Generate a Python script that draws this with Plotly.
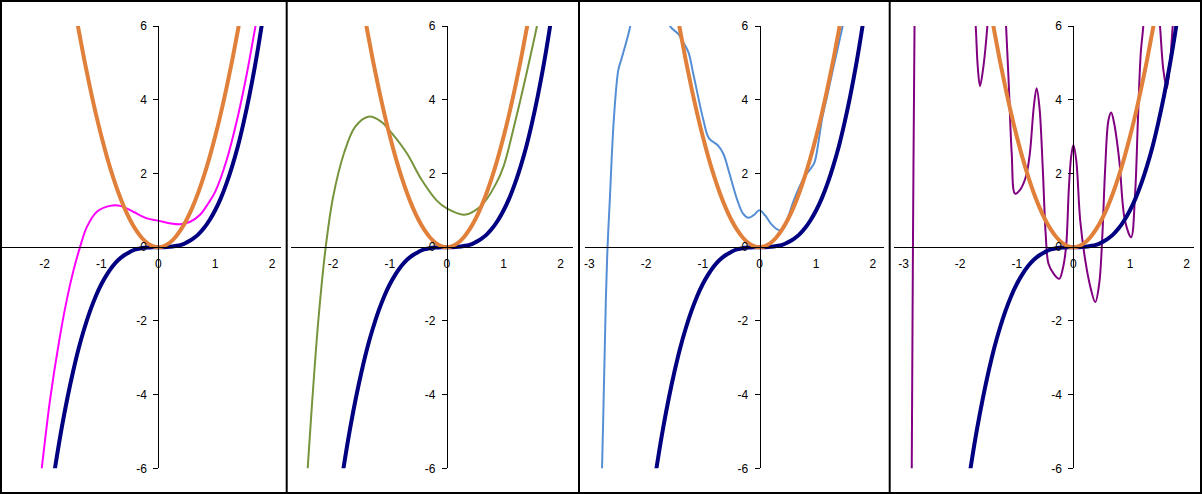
import plotly.graph_objects as go

# ---------------- data ----------------
y_ticks = [-6, -4, -2, 0, 2, 4, 6]
x_ticks_p1 = [-2, -1, 0, 1, 2]
x_ticks_p2 = [-2, -1, 0, 1, 2]
x_ticks_p3 = [-3, -2, -1, 0, 1, 2]
x_ticks_p4 = [-3, -2, -1, 0, 1, 2]

# navy curve (same in all panels)
navy_x = [-1.9, -1.8, -1.7, -1.6, -1.5, -1.4, -1.3, -1.2, -1.1, -1.0, -0.9, -0.8, -0.7, -0.6,
          -0.5, -0.4, -0.3, -0.2, -0.1, 0.0, 0.1, 0.2, 0.3, 0.4, 0.5, 0.6, 0.7, 0.8, 0.9, 1.0,
          1.1, 1.2, 1.3, 1.4, 1.5, 1.6, 1.7, 1.8, 1.9]
navy_y = [-6.86, -5.83, -4.91, -4.10, -3.38, -2.74, -2.20, -1.73, -1.33, -1.0, -0.73, -0.51, -0.34, -0.22,
          -0.13, -0.06, -0.03, -0.01, 0.0, 0.0, 0.0, 0.01, 0.03, 0.06, 0.13, 0.22, 0.34, 0.51, 0.73, 1.0,
          1.33, 1.73, 2.20, 2.74, 3.38, 4.10, 4.91, 5.83, 6.86]

# orange curve (same in all panels)
orange_x = [-1.5, -1.4, -1.3, -1.2, -1.1, -1.0, -0.9, -0.8, -0.7, -0.6, -0.5, -0.4, -0.3, -0.2, -0.1,
            0.0, 0.1, 0.2, 0.3, 0.4, 0.5, 0.6, 0.7, 0.8, 0.9, 1.0, 1.1, 1.2, 1.3, 1.4, 1.5]
orange_y = [6.75, 5.88, 5.07, 4.32, 3.63, 3.0, 2.43, 1.92, 1.47, 1.08, 0.75, 0.48, 0.27, 0.12, 0.03,
            0.0, 0.03, 0.12, 0.27, 0.48, 0.75, 1.08, 1.47, 1.92, 2.43, 3.0, 3.63, 4.32, 5.07, 5.88, 6.75]

# panel 1 (magenta)
magenta_x = [-2.08, -2.05, -1.905, -1.75, -1.61, -1.5, -1.377, -1.256, -1.08, -0.85, -0.67, -0.44,
             -0.2, 0.0, 0.2, 0.38, 0.56, 0.73, 0.88, 1.0, 1.2, 1.4, 1.55, 1.71, 1.75]
magenta_y = [-6.4, -6.0, -4.15, -2.6, -1.43, -0.68, 0.0, 0.55, 0.96, 1.12, 1.12, 0.96,
             0.78, 0.72, 0.65, 0.62, 0.69, 0.87, 1.19, 1.5, 2.35, 3.55, 4.65, 6.0, 6.35]

# panel 2 (green)
green_x = [-2.48, -2.447, -2.366, -2.26, -2.13, -2.0, -1.81, -1.61, -1.38, -1.15, -0.96, -0.70,
           -0.44, -0.18, 0.0, 0.31, 0.61, 0.868, 1.0, 1.21, 1.4, 1.585, 1.62]
green_y = [-6.7, -6.0, -4.15, -1.99, 0.0, 1.36, 2.54, 3.27, 3.54, 3.4, 3.08, 2.54,
           1.82, 1.27, 1.05, 0.88, 1.13, 1.73, 2.2, 3.45, 4.7, 6.0, 6.3]

# panel 3 (blue), two visible pieces
blue_x = [-2.79, -2.777, -2.74, -2.71, -2.68, -2.64, -2.57, -2.49, -2.44, -2.34, -2.28, -2.26, None,
          -1.62, -1.58, -1.43, -1.37, -1.256, -1.17, -0.99, -0.89, -0.74, -0.64, -0.53, -0.39, -0.29,
          -0.20, -0.11, 0.0, 0.10, 0.20, 0.33, 0.4, 0.5, 0.6, 0.7, 0.8, 0.9, 0.97, 1.03, 1.1, 1.2,
          1.3, 1.467, 1.5]
blue_y = [-6.5, -6.0, -3.5, -1.44, 0.0, 1.28, 3.45, 4.81, 5.08, 5.62, 6.0, 6.3, None,
          6.3, 6.0, 5.78, 5.62, 5.3, 4.72, 3.45, 2.95, 2.77, 2.54, 2.0, 1.27, 0.91,
          0.80, 0.86, 1.0, 0.86, 0.64, 0.47, 0.48, 0.8, 1.25, 1.62, 1.93, 2.12, 2.3, 2.75, 3.45, 4.15,
          4.85, 6.0, 6.25]

# panel 4 (purple), four visible pieces
purple_x = [-2.86, -2.856, -2.835, -2.807, -2.803, None,
            -1.75, -1.726, -1.69, -1.65, -1.59, -1.52, -1.50, None,
            -1.21, -1.19, -1.14, -1.09, -1.03, -0.95, -0.84, -0.77, -0.70, -0.65, -0.60, -0.54, -0.49,
            -0.44, -0.35, -0.25, -0.19, -0.13, -0.08, -0.04, 0.0, 0.05, 0.12, 0.21, 0.30, 0.386, 0.456,
            0.51, 0.56, 0.62, 0.667, 0.72, 0.81, 0.91, 1.02, 1.09, 1.14, 1.19, 1.235, 1.25, None,
            1.50, 1.53, 1.59, 1.65, 1.70, 1.754, 1.77]
purple_y = [-6.5, -6.0, 0.0, 6.0, 6.5, None,
            6.5, 6.0, 4.9, 4.37, 4.9, 6.0, 6.5, None,
            6.5, 6.0, 4.35, 2.54, 1.45, 1.54, 1.91, 2.54, 3.8, 4.31, 3.8, 2.09, 0.36,
            -0.45, -0.72, -0.86, -0.6, 0.0, 1.6, 2.45, 2.77, 2.36, 0.73, -0.36, -1.08, -1.49, -0.99,
            0.27, 2.09, 3.45, 3.65, 3.36, 2.36, 0.73, 0.27, 1.45, 3.45, 5.26, 6.0, 6.5, None,
            6.5, 6.0, 4.8, 4.31, 4.9, 6.0, 6.5]

# ---------------- layout ----------------
W, H = 1202, 494


def fx(px):
    return px / W


def fy(py):
    return 1 - py / H


def labels(vals):
    # hyphen-minus like the reference (not the typographic minus)
    return [str(v) for v in vals]


panels = [
    dict(l=1, r=281, z=158.3, s=56.85, ticks=x_ticks_p1),
    dict(l=291, r=573, z=446.8, s=56.85, ticks=x_ticks_p2),
    dict(l=585, r=884, z=759.5, s=56.7, ticks=x_ticks_p3),
    dict(l=894, r=1194, z=1073.4, s=56.6, ticks=x_ticks_p4),
]
Y_TOP, Y_BOT = 26.0, 468.3
Y_ZERO = (Y_TOP + Y_BOT) / 2

curves = [
    (magenta_x, magenta_y, "#FF00FF"),
    (green_x, green_y, "#77933C"),
    (blue_x, blue_y, "#558ED5"),
    (purple_x, purple_y, "#800080"),
]

NAVY = "#000080"
ORANGE = "#E0803A"
FONT = dict(family="Arial, Liberation Sans, sans-serif", size=12, color="black")

fig = go.Figure()
layout = dict(
    width=W, height=H, autosize=False,
    margin=dict(l=0, r=0, t=0, b=0, pad=0),
    paper_bgcolor="white", plot_bgcolor="rgba(0,0,0,0)",
    showlegend=False,
    font=FONT,
)

for i, p in enumerate(panels):
    n = "" if i == 0 else str(i + 1)
    xa, ya = "x" + n, "y" + n
    cx, cy, col = curves[i]
    fig.add_trace(go.Scatter(x=cx, y=cy, mode="lines", xaxis=xa, yaxis=ya,
                             line=dict(color=col, width=2, shape="spline"),
                             hoverinfo="skip"))
    fig.add_trace(go.Scatter(x=navy_x, y=navy_y, mode="lines", xaxis=xa, yaxis=ya,
                             line=dict(color=NAVY, width=4, shape="spline"),
                             hoverinfo="skip"))
    fig.add_trace(go.Scatter(x=orange_x, y=orange_y, mode="lines", xaxis=xa, yaxis=ya,
                             line=dict(color=ORANGE, width=4, shape="spline"),
                             hoverinfo="skip"))
    layout["xaxis" + n] = dict(
        domain=[fx(p["l"]), fx(p["r"])],
        range=[(p["l"] - p["z"]) / p["s"], (p["r"] - p["z"]) / p["s"]],
        anchor="free", position=fy(Y_ZERO),
        showline=True, linecolor="black", linewidth=1,
        showgrid=False, zeroline=False,
        tickmode="array", tickvals=p["ticks"], ticktext=labels(p["ticks"]),
        ticks="outside", ticklen=5, tickcolor="rgba(0,0,0,0)",
        tickfont=FONT, fixedrange=True, automargin=False,
    )
    layout["yaxis" + n] = dict(
        domain=[fy(Y_BOT), fy(Y_TOP)],
        range=[-6, 6],
        anchor="free", position=fx(p["z"]),
        showline=True, linecolor="black", linewidth=1,
        showgrid=False, zeroline=False,
        tickmode="array", tickvals=y_ticks, ticktext=labels(y_ticks),
        ticks="outside", ticklen=5, tickcolor="black", tickwidth=1,
        ticklabelstandoff=4,
        tickfont=FONT, fixedrange=True, automargin=False,
    )

# panel borders
shapes = []
for xpx in [1, 286.7, 579, 889.7, 1201]:
    shapes.append(dict(type="line", xref="paper", yref="paper",
                       x0=fx(xpx), x1=fx(xpx), y0=0, y1=1,
                       line=dict(color="black", width=2)))
for ypx in [1, 493]:
    shapes.append(dict(type="line", xref="paper", yref="paper",
                       x0=0, x1=1, y0=fy(ypx), y1=fy(ypx),
                       line=dict(color="black", width=2)))
layout["shapes"] = shapes

fig.update_layout(**layout)
fig.write_html(
    "out.html",
    config={"responsive": False, "displayModeBar": False},
    post_script="document.body.style.margin='0px';document.body.style.padding='0px';"
                "document.body.style.overflow='hidden';",
)
